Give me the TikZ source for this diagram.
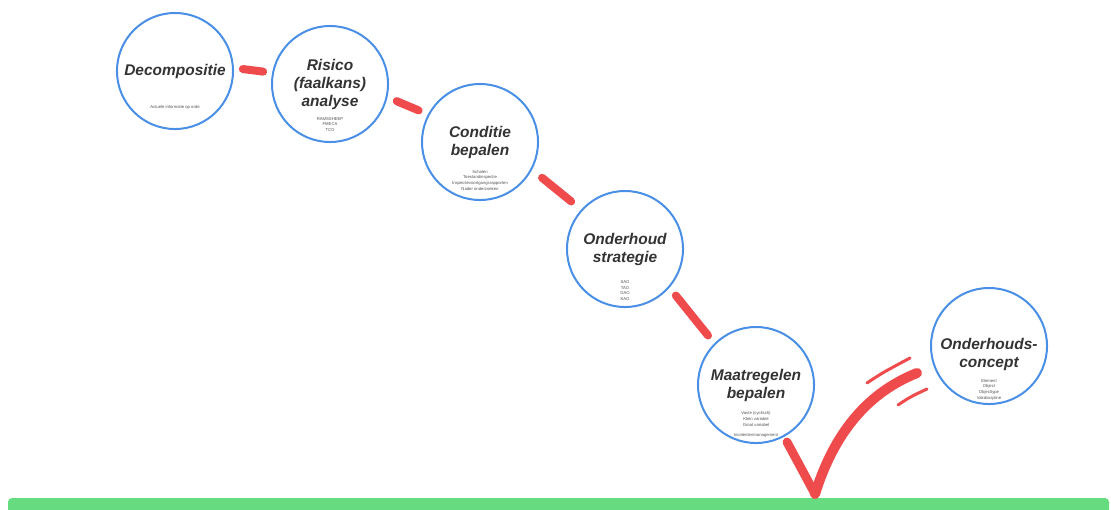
\documentclass[tikz,border=0pt]{standalone}
\usepackage{fontspec}
\setmainfont{Liberation Sans}
\usetikzlibrary{positioning}
\usepackage{xcolor}
\definecolor{Ring}{HTML}{4A8FE6}
\definecolor{Mark}{HTML}{EF4A4C}
\definecolor{Ground}{HTML}{67DB80}
\definecolor{Ink}{HTML}{333333}

\begin{document}
\begin{tikzpicture}[x=0.025cm,y=-0.025cm,
    heading/.style={align=center,text=Ink,inner sep=0pt,font=\fontsize{11}{12.8}\selectfont\bfseries\itshape},
    bubble/.style={heading,circle,draw=Ring,line width=0.05cm,fill=white,minimum size=2.9cm},
    note/.style={align=center,text=Ink!85,inner sep=0pt,font=\fontsize{3}{4}\selectfont},
    link/.style={draw=Mark,line width=0.2cm,line cap=round}]
    \useasboundingbox (0,0) rectangle (1111,509);
    \fill[Ground,rounded corners=0.1cm] (8,498) rectangle (1109,520);

    % steps
    \node[bubble] (dec) at (175,71) {Decompositie};
    \node[bubble] (ris) at (330,84) {Risico\\(faalkans)\\analyse};
    \node[bubble] (con) at (480,142) {Conditie\\bepalen};
    \node[bubble] (ond) at (625,249) {Onderhoud\\strategie};
    \node[bubble] (maa) at (756,385) {Maatregelen\\bepalen};
    \node[bubble] (cpt) at (989,346) {};
    \node[heading] (cpt-t) at ([yshift=-0.2cm]cpt.center) {Onderhouds-\\concept};

    \node[note,below=0.85cm of dec.center] (dec-n) {Actuele informatie op orde};
    \node[note,below=0.82cm of ris.center] (ris-n) {RAMSSHEEP\\FMECA\\TCO};
    \node[note,below=0.7cm of con.center] (con-n) {Schalen\\Toestandinspectie\\Inspectievoortgangsrapporten\\Nader onderzoeken};
    \node[note,below=0.78cm of ond.center] (ond-n) {SAO\\TAO\\GAO\\KAO};
    \node[note,below=0.66cm of maa.center] (maa-n) {Vaste (cyclisch)\\Klein variabel\\Groot variabel\\[0.12cm]Incidentenmanagement};
    \node[note,below=0.82cm of cpt.center] (cpt-n) {Element\\Object\\Objecttype\\Vakdiscipline};

    % red dashes between the steps
    \foreach \a/\b/\s in {dec.3/ris.169/0.225cm, ris.-13/con.152/0.25cm,
                          con.-28/ond.138/0.32cm, ond.-41/maa.135/0.25cm}{
      \draw[link,shorten <=\s,shorten >=\s] (\a) -- (\b);
    }

    % tick
    \coordinate (tick-a) at (787,442);
    \coordinate (tick-b) at (815,494);
    \coordinate (tick-c) at (917,373);
    \draw[Mark,line width=0.22cm,line cap=round] (tick-a) -- (tick-b);
    \draw[Mark,line width=0.25cm,line cap=round]
      (tick-b) .. controls (832,440) and (862,395) .. (tick-c);
    \draw[Mark,line width=0.075cm,line cap=round] (867,383) .. controls (882,373) .. (910,358);
    \draw[Mark,line width=0.075cm,line cap=round] (898,405) .. controls (910,397) .. (927,389);
  \end{tikzpicture}
\end{document}
